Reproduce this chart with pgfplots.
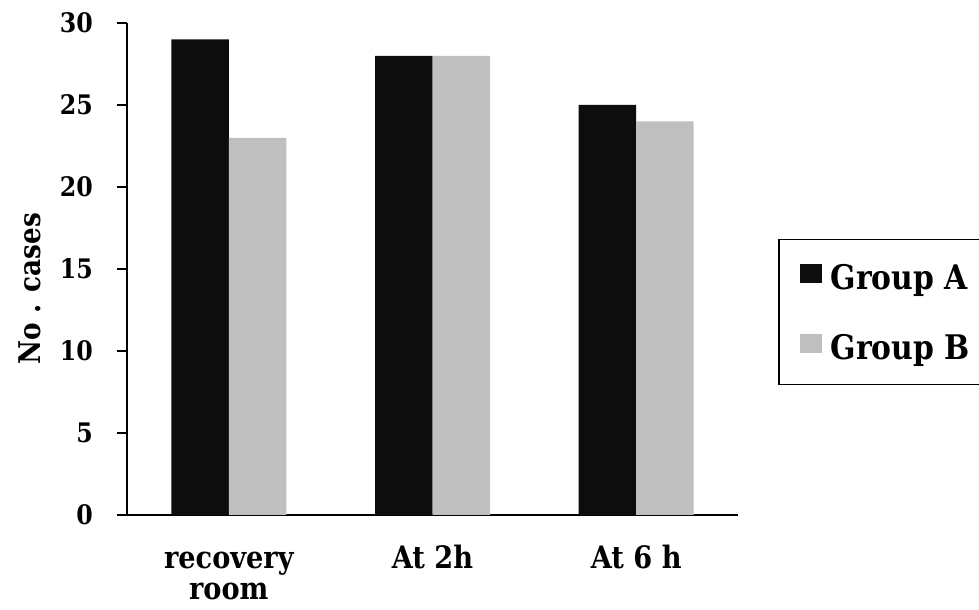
\documentclass[border=0pt]{standalone}
\usepackage{pgfplots}
\pgfplotsset{compat=1.18}
\usepackage{fontspec}
\setmainfont{DejaVu Serif}[FakeStretch=0.88]
\definecolor{barA}{HTML}{0D0D0D}
\definecolor{barB}{HTML}{BFBFBF}
\begin{document}
\begin{tikzpicture}
\useasboundingbox (0,0) rectangle (979bp,610bp);
\begin{axis}[
	at={(127bp,95bp)}, anchor=south west,
	scale only axis, width=611bp, height=492bp,
	ybar=0pt, bar width=57.5bp,
	xmin=-0.5, xmax=2.5, ymin=0, ymax=30,
	xtick=data,
	xticklabels={\vphantom{Ah}recovery\\room, At 2h, At 6 h},
	ytick={0,5,10,15,20,25,30},
	axis x line*=bottom, axis y line*=left,
	axis line style={line width=2.5bp},
	major x tick style={draw=none},
	major y tick style={line width=2.5bp, black},
	tick align=outside, major tick length=10bp,
	/pgf/number format/assume math mode=true,
	yticklabel style={font=\bfseries\fontsize{27}{30}\selectfont, inner sep=0pt, xshift=-24bp},
	xticklabel style={align=center, inner sep=0pt, anchor=north,
		font=\bfseries\fontsize{31}{31}\selectfont, yshift=-20bp},
	ylabel={No . cases},
	ylabel style={at={(axis description cs:-0.1596,0.46)}, anchor=center,
		font=\bfseries\fontsize{30}{34}\selectfont},
	legend style={at={(axis description cs:1.0655,0.561)}, anchor=north west,
		draw=black, line width=1.5bp, font=\bfseries\fontsize{34}{38}\selectfont,
		nodes={inner sep=0pt, text height=33bp, text depth=8bp},
		inner xsep=21bp, inner ysep=17bp, row sep=29bp,
		/tikz/every odd column/.append style={column sep=9bp},
		legend cell align=left},
]
\addplot[fill=barA, draw=none, legend image code/.code={\fill[barA] (0bp,-6bp) rectangle (22bp,13bp);}]
	coordinates {(0,29) (1,28) (2,25)};
\addplot[fill=barB, draw=none, legend image code/.code={\fill[barB] (0bp,-6bp) rectangle (22bp,13bp);}]
	coordinates {(0,23) (1,28) (2,24)};
\legend{Group A\hspace*{30bp}, Group B\hspace*{30bp}}
\end{axis}
\end{tikzpicture}
\end{document}
